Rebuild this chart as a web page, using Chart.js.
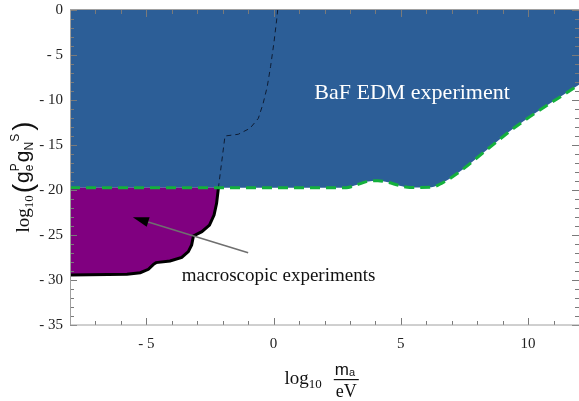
<!DOCTYPE html>
<html>
<head>
<meta charset="utf-8">
<script src="https://cdn.jsdelivr.net/npm/chart.js@4.4.0/dist/chart.umd.min.js"></script>
<style>
  html, body { margin: 0; padding: 0; background: #fff; }
</style>
</head>
<body>
<canvas id="chart" width="579" height="401"></canvas>
<script>
// lower edge of the BaF EDM excluded region (green dashed)
const bafX = [-8, 2.85, 3.25, 3.65, 4.1, 4.5, 4.95, 5.35, 6.2, 6.6, 7.2, 8.35, 9.5, 12];
const bafY = [-19.75, -19.74, -19.44, -19.07, -18.96, -19.15, -19.52, -19.72, -19.7, -19.26, -18.2, -15.6, -13.0, -8.3];

// macroscopic experiments bound (black solid)
const macroX = [-8, -5.76, -5.24, -4.92, -4.72, -4.62, -4.07, -3.61, -3.35, -3.22, -3.15, -2.82, -2.52, -2.34, -2.24, -2.17];
const macroY = [-29.44, -29.37, -29.19, -28.81, -28.26, -28.07, -27.89, -27.48, -26.85, -26.11, -25.11, -24.63, -23.89, -22.78, -21.48, -19.8];

// thin dashed curve
const dashX = [-2.17, -1.91, -1.39, -0.93, -0.6, -0.41, -0.25, -0.12, 0.01, 0.12, 0.16];
const dashY = [-19.8, -14.0, -13.81, -13.15, -12.04, -10.37, -8.52, -6.3, -3.7, -1.11, 0];

const xTickValues = [-5, 0, 5, 10];
const yTickValues = [0, -5, -10, -15, -20, -25, -30, -35];

const blue = '#2c5e97';
const purple = '#800080';
const green = '#14b03c';

function pts(xs, ys) {
  return xs.map((v, i) => ({ x: v, y: ys[i] }));
}
function fmt(v) {
  return v < 0 ? '- ' + Math.abs(v) : String(v);
}

// draw a row of text pieces (sub/superscripts), returns width
function drawParts(ctx, parts, x0, y0, measureOnly) {
  let x = x0;
  let i = 0;
  while (i < parts.length) {
    const p = parts[i];
    ctx.font = p.font;
    let w = ctx.measureText(p.t).width;
    if (!measureOnly) ctx.fillText(p.t, x, y0 + (p.dy || 0));
    if (p.stack && parts[i + 1]) {
      const q = parts[i + 1];
      ctx.font = q.font;
      const w2 = ctx.measureText(q.t).width;
      if (!measureOnly) ctx.fillText(q.t, x, y0 + (q.dy || 0));
      w = Math.max(w, w2);
      i++;
    }
    x += w + (p.gap || 0);
    i++;
  }
  return x - x0;
}

const decor = {
  id: 'decor',
  afterDatasetsDraw(chart) {
    const { ctx, chartArea: a, scales: { x, y } } = chart;
    ctx.save();

    // inward ticks on all four sides
    ctx.strokeStyle = '#7a7a7a';
    ctx.lineWidth = 1;
    ctx.beginPath();
    for (let v = Math.ceil(x.min); v <= x.max; v++) {
      const px = Math.round(x.getPixelForValue(v)) + 0.5;
      const len = v % 5 === 0 ? 7 : 4;
      ctx.moveTo(px, a.bottom); ctx.lineTo(px, a.bottom - len);
      ctx.moveTo(px, a.top); ctx.lineTo(px, a.top + len);
    }
    for (let v = Math.ceil(y.min); v <= y.max; v++) {
      const py = Math.round(y.getPixelForValue(v)) + 0.5;
      const len = v % 5 === 0 ? 7 : 4;
      ctx.moveTo(a.left, py); ctx.lineTo(a.left + len, py);
      ctx.moveTo(a.right, py); ctx.lineTo(a.right - len, py);
    }
    ctx.stroke();

    // frame
    ctx.strokeStyle = '#a0a0a0';
    ctx.strokeRect(a.left + 0.5, a.top - 0.5, a.right - a.left, a.bottom - a.top + 0.5);

    // region labels
    ctx.fillStyle = '#ffffff';
    ctx.font = '22px "Liberation Serif"';
    ctx.textAlign = 'center';
    ctx.textBaseline = 'alphabetic';
    ctx.fillText('BaF EDM experiment', x.getPixelForValue(5.44), y.getPixelForValue(-9.9));

    ctx.fillStyle = '#111';
    ctx.font = '19px "Liberation Serif"';
    ctx.textAlign = 'left';
    ctx.fillText('macroscopic experiments', x.getPixelForValue(-3.61), y.getPixelForValue(-30.1));

    // arrow
    const tx = x.getPixelForValue(-1.0), ty = y.getPixelForValue(-26.97);
    const hx = x.getPixelForValue(-5.53), hy = y.getPixelForValue(-23.03);
    const ang = Math.atan2(hy - ty, hx - tx);
    const hl = 16, hw = 5;
    const bx = hx - hl * Math.cos(ang), by = hy - hl * Math.sin(ang);
    ctx.strokeStyle = '#6f6f6f';
    ctx.lineWidth = 1.5;
    ctx.beginPath();
    ctx.moveTo(tx, ty); ctx.lineTo(bx, by);
    ctx.stroke();
    ctx.fillStyle = '#000';
    ctx.beginPath();
    ctx.moveTo(hx, hy);
    ctx.lineTo(bx + hw * Math.sin(ang), by - hw * Math.cos(ang));
    ctx.lineTo(bx - hw * Math.sin(ang), by + hw * Math.cos(ang));
    ctx.closePath();
    ctx.fill();

    // x axis title: log10 (m_a / eV)
    ctx.fillStyle = '#111';
    ctx.textAlign = 'left';
    const cx = (a.left + a.right) / 2;
    const sx = cx - 40;
    const w1 = drawParts(ctx, [
      { t: 'log', font: '19px "Liberation Serif"' },
      { t: '10', font: '13px "Liberation Serif"', dy: 4 }
    ], sx, 384);
    const fx = sx + w1 + 12;
    ctx.font = '17px "Liberation Sans"';
    ctx.fillText('m', fx + 1, 375);
    const mw = ctx.measureText('m').width;
    ctx.font = '11px "Liberation Sans"';
    ctx.fillText('a', fx + 1 + mw, 376);
    ctx.fillRect(fx, 379, 25, 1.2);
    ctx.font = '18px "Liberation Serif"';
    ctx.textAlign = 'center';
    ctx.fillText('eV', fx + 12.5, 397);

    // y axis title: log10(g_e^P g_N^S)
    ctx.save();
    ctx.translate(29, 0);
    ctx.rotate(-Math.PI / 2);
    ctx.textAlign = 'left';
    const yParts = [
      { t: 'log', font: '19px "Liberation Serif"' },
      { t: '10', font: '13px "Liberation Serif"', dy: 4, gap: 2 },
      { t: '(', font: '300 28px "Liberation Sans"', dy: 3, gap: 1 },
      { t: 'g', font: '21px "Liberation Sans"' },
      { t: 'e', font: '12px "Liberation Sans"', dy: 4, stack: true, gap: 1 },
      { t: 'P', font: '12px "Liberation Sans"', dy: -10 },
      { t: 'g', font: '21px "Liberation Sans"' },
      { t: 'N', font: '12px "Liberation Sans"', dy: 4 },
      { t: 'S', font: '12px "Liberation Sans"', dy: -10, gap: 3 },
      { t: ')', font: '300 28px "Liberation Sans"', dy: 3 }
    ];
    const tw = drawParts(ctx, yParts, 0, 0, true);
    const cy = 177;
    drawParts(ctx, yParts, -cy - tw / 2, 0);
    ctx.restore();

    ctx.restore();
  }
};

new Chart(document.getElementById('chart'), {
  type: 'line',
  data: {
    datasets: [
      {
        // green dashed edge drawn on top
        data: pts(bafX, bafY),
        borderColor: green,
        borderWidth: 3,
        borderDash: [10, 6],
        fill: false,
        pointRadius: 0,
        cubicInterpolationMode: 'monotone',
        order: 0
      },
      {
        data: pts(dashX, dashY),
        borderColor: '#0e1c33',
        borderWidth: 1,
        borderDash: [5, 4],
        fill: false,
        pointRadius: 0,
        tension: 0,
        order: 1
      },
      {
        data: pts(macroX, macroY),
        borderColor: '#000',
        borderWidth: 3,
        backgroundColor: purple,
        fill: { value: -19.75 },
        pointRadius: 0,
        tension: 0,
        order: 2
      },
      {
        data: pts(bafX, bafY),
        borderWidth: 0,
        borderColor: blue,
        backgroundColor: blue,
        fill: 'end',
        pointRadius: 0,
        cubicInterpolationMode: 'monotone',
        order: 3
      }
    ]
  },
  options: {
    responsive: false,
    animation: false,
    devicePixelRatio: 1,
    layout: { padding: { top: 10, right: 0, left: 0, bottom: 0 } },
    plugins: { legend: { display: false }, tooltip: { enabled: false } },
    scales: {
      x: {
        type: 'linear',
        min: -8,
        max: 12,
        grid: { display: false, drawTicks: false },
        border: { display: false },
        afterBuildTicks: s => { s.ticks = xTickValues.map(v => ({ value: v })); },
        afterFit: s => { s.height = 76; s.paddingLeft = 0; s.paddingRight = 0; },
        ticks: {
          padding: 10,
          maxRotation: 0,
          color: '#222',
          font: { family: 'Liberation Serif', size: 15 },
          callback: v => fmt(v)
        }
      },
      y: {
        type: 'linear',
        min: -35,
        max: 0,
        grid: { display: false, drawTicks: false },
        border: { display: false },
        afterBuildTicks: s => { s.ticks = yTickValues.map(v => ({ value: v })); },
        afterFit: s => { s.width = 70; s.paddingTop = 0; s.paddingBottom = 0; },
        ticks: {
          padding: 7,
          color: '#222',
          font: { family: 'Liberation Serif', size: 15 },
          callback: v => fmt(v)
        }
      }
    }
  },
  plugins: [decor]
});
</script>
</body>
</html>
